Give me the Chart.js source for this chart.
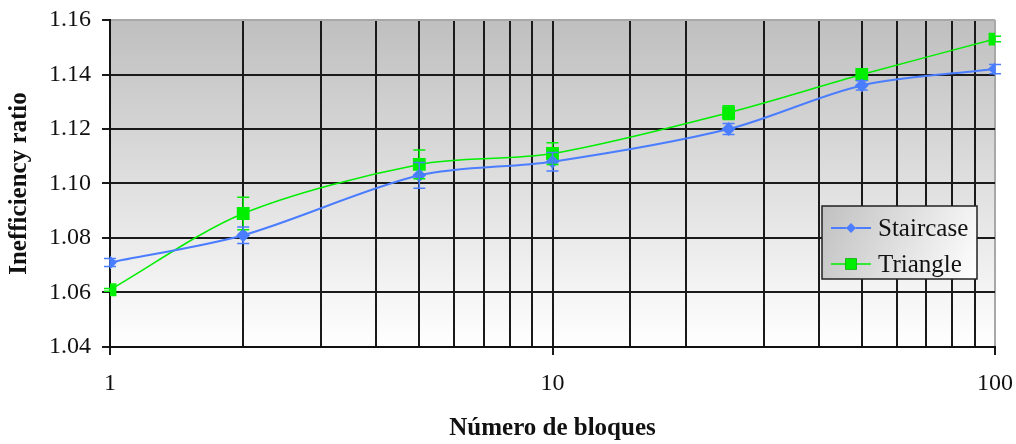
<!DOCTYPE html>
<html>
<head>
<meta charset="utf-8">
<script src="https://cdn.jsdelivr.net/npm/chart.js@4/dist/chart.umd.min.js"></script>
<style>
  html, body { margin: 0; padding: 0; background: #fff; }
  #wrap { width: 1016px; height: 444px; position: relative; }
</style>
</head>
<body>
<div id="wrap"><canvas id="chart"></canvas></div>
<script>
// data
const blocks = [1, 2, 5, 10, 25, 50, 100];
const staircase = [1.071, 1.081, 1.103, 1.108, 1.120, 1.136, 1.142];
const triangle = [1.061, 1.089, 1.107, 1.111, 1.126, 1.140, 1.153];
const staircaseErr = [0.0015, 0.003, 0.0047, 0.0034, 0.002, 0.0017, 0.0017];
const triangleErr = [0.0005, 0.006, 0.0053, 0.004, 0.0025, 0.001, 0.001];
const yTicks = [1.04, 1.06, 1.08, 1.10, 1.12, 1.14, 1.16];

const serif = "'Liberation Serif', 'DejaVu Serif', serif";

function isPow10(v) {
    const l = Math.log10(v);
    return Math.abs(l - Math.round(l)) < 1e-9;
}

// gray gradient behind the plot
const plotBackground = {
    id: "plotBackground",
    beforeDraw(chart) {
        const { ctx, chartArea: a } = chart;
        const g = ctx.createLinearGradient(0, a.top, 0, a.bottom);
        g.addColorStop(0, "#bfbfbf");
        g.addColorStop(1, "#ffffff");
        ctx.save();
        ctx.fillStyle = g;
        ctx.fillRect(a.left, a.top, a.right - a.left, a.bottom - a.top);
        ctx.restore();
    }
};

// vertical error bars with caps
const errorBars = {
    id: "errorBars",
    afterDatasetsDraw(chart) {
        const { ctx, scales } = chart;
        const errs = [staircaseErr, triangleErr];
        ctx.save();
        for (let d = chart.data.datasets.length - 1; d >= 0; d--) {
            const ds = chart.data.datasets[d];
            ctx.strokeStyle = ds.borderColor;
            ctx.lineWidth = 1.5;
            ds.data.forEach((p, i) => {
                const x = scales.x.getPixelForValue(p.x);
                const y1 = scales.y.getPixelForValue(p.y + errs[d][i]);
                const y2 = scales.y.getPixelForValue(p.y - errs[d][i]);
                ctx.beginPath();
                ctx.moveTo(x, y1); ctx.lineTo(x, y2);
                ctx.moveTo(x - 6, y1); ctx.lineTo(x + 6, y1);
                ctx.moveTo(x - 6, y2); ctx.lineTo(x + 6, y2);
                ctx.stroke();
            });
        }
        ctx.restore();
    }
};

// legend box inside the plot, right side
const boxLegend = {
    id: "boxLegend",
    afterDraw(chart) {
        const { ctx, chartArea: a } = chart;
        const bx = a.right - 173, by = a.top + 186, bw = 155, bh = 73;
        ctx.save();
        const g = ctx.createLinearGradient(bx, by, bx + bw, by + bh);
        g.addColorStop(0, "#c0c0c0");
        g.addColorStop(1, "#ffffff");
        ctx.fillStyle = g;
        ctx.fillRect(bx, by, bw, bh);
        ctx.strokeStyle = "#222";
        ctx.lineWidth = 1.5;
        ctx.strokeRect(bx, by, bw, bh);
        chart.data.datasets.forEach((ds, i) => {
            const cy = by + 22 + i * 36;
            ctx.strokeStyle = ds.borderColor;
            ctx.lineWidth = ds.borderWidth;
            ctx.beginPath();
            ctx.moveTo(bx + 9, cy);
            ctx.lineTo(bx + 49, cy);
            ctx.stroke();
            Chart.helpers.drawPoint(ctx, {
                pointStyle: ds.pointStyle,
                radius: ds.legendRadius,
                borderWidth: 0
            }, bx + 29, cy);
            ctx.fillStyle = ds.borderColor;
            ctx.fill();
            ctx.fillStyle = "#111";
            ctx.font = "25px " + serif;
            ctx.textBaseline = "middle";
            ctx.fillText(ds.label, bx + 56, cy + 1);
        });
        ctx.restore();
    }
};

new Chart(document.getElementById("chart"), {
    type: "line",
    data: {
        datasets: [
            {
                label: "Staircase",
                data: blocks.map((b, i) => ({ x: b, y: staircase[i] })),
                borderColor: "#4a7dff",
                backgroundColor: "#4a7dff",
                borderWidth: 2,
                pointStyle: "rectRot",
                pointRadius: 5.5,
                legendRadius: 5,
                tension: 0.3
            },
            {
                label: "Triangle",
                data: blocks.map((b, i) => ({ x: b, y: triangle[i] })),
                borderColor: "#00ee00",
                backgroundColor: "#00ee00",
                borderWidth: 1.5,
                pointStyle: "rect",
                pointRadius: 8,
                legendRadius: 8,
                tension: 0.3
            }
        ]
    },
    options: {
        responsive: true,
        maintainAspectRatio: false,
        animation: false,
        events: [],
        layout: { padding: { top: 20, right: 21, left: 0, bottom: 0 } },
        plugins: {
            legend: { display: false },
            tooltip: { enabled: false }
        },
        scales: {
            x: {
                type: "logarithmic",
                min: 1,
                max: 100,
                afterFit: s => {
                    s.height = 97;
                    s.paddingLeft = 0;
                    s.paddingRight = 0;
                },
                border: { color: "#111", width: 2 },
                grid: {
                    color: c => (c.tick && c.tick.value === 100) ? "#a8a8a8" : "#1a1a1a",
                    lineWidth: 2,
                    tickLength: 8,
                    tickColor: c => (c.tick && isPow10(c.tick.value)) ? "#1a1a1a" : "rgba(0,0,0,0)"
                },
                ticks: {
                    autoSkip: false,
                    maxRotation: 0,
                    padding: 14,
                    color: "#111",
                    font: { family: serif, size: 24 },
                    callback: v => isPow10(v) ? String(v) : ""
                },
                title: {
                    display: true,
                    text: "Número de bloques",
                    color: "#111",
                    font: { family: serif, size: 25, weight: "bold" },
                    padding: { top: 0, bottom: 0 }
                }
            },
            y: {
                min: 1.04,
                max: 1.16,
                afterFit: s => {
                    s.width = 110;
                    s.paddingTop = 0;
                    s.paddingBottom = 0;
                },
                afterBuildTicks: s => { s.ticks = yTicks.map(v => ({ value: v })); },
                border: { color: "#111", width: 2 },
                grid: {
                    color: c => (c.tick && c.tick.value > 1.159) ? "#a8a8a8" : "#1a1a1a",
                    lineWidth: 2,
                    tickLength: 8,
                    tickColor: "#1a1a1a"
                },
                ticks: {
                    padding: 11,
                    color: "#111",
                    font: { family: serif, size: 24 },
                    callback: v => Number(v).toFixed(2)
                },
                title: {
                    display: true,
                    text: "Inefficiency ratio",
                    color: "#111",
                    font: { family: serif, size: 25, weight: "bold" },
                    padding: { top: 5, bottom: 0 }
                }
            }
        }
    },
    plugins: [plotBackground, errorBars, boxLegend]
});
</script>
</body>
</html>
